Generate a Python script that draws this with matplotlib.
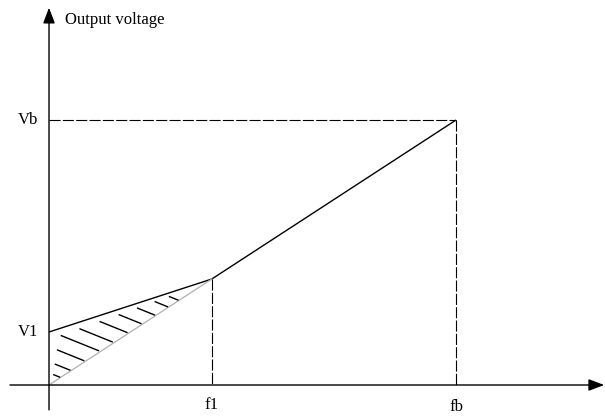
#%% imports
import numpy as np
import matplotlib
matplotlib.use('Agg')
import matplotlib.pyplot as plt

#%% data (frequency / voltage in percent of base)
f1, fb = 40, 100
V1, Vb = 20, 100
v_knee = Vb * f1 / fb          # point where boost line meets the V/f line
curve_f = [0, f1, fb]
curve_v = [V1, v_knee, Vb]
hatch_c = [4.6, 8.8, 14.5, 20.5, 25.9, 31.7, 37.2, 42.5, 47.6, 51.7]   # hatch line offsets
hatch_slope = -0.62

#%% figure
plt.rcParams['font.family'] = ['Liberation Serif', 'DejaVu Serif']
fig = plt.figure(figsize=(6.05, 4.16), dpi=100)
ax = fig.add_axes([0, 0, 1, 1])
ax.set_xlim(-12.04, 136.6)
ax.set_ylim(-11.7, 145.3)
ax.axis('off')

# axes with arrows
arrow = dict(arrowstyle='-|>,head_length=0.95,head_width=0.36', lw=1.0, color='k',
             shrinkA=0, shrinkB=0, mutation_scale=10)
ax.annotate('', xy=(136.4, 0), xytext=(-9.6, 0), arrowprops=arrow)
ax.annotate('', xy=(0, 142.4), xytext=(0, -9.4), arrowprops=arrow)

# boost curve
ax.plot(curve_f, curve_v, color='k', lw=1.0, solid_capstyle='butt')
# plain V/f line without boost
ax.plot([0, f1], [0, v_knee], color='#b0b0b0', lw=0.9)

# dashed guides
dash = dict(color='k', lw=0.8, linestyle=(0, (10, 2)))
ax.plot([f1, f1], [v_knee, 0], **dash)
ax.plot([0, fb], [Vb, Vb], **dash)
ax.plot([fb, fb], [Vb, 0], **dash)

# hatching between boost line and V/f line
up_slope = (v_knee - V1) / f1
for c in hatch_c:
    fs = max(0.0, (c - V1) / (up_slope - hatch_slope))
    fe = c / (1 - hatch_slope)
    L = fe - fs
    a = fs + 0.15 * L + 0.6
    b = fe - 0.03 * L
    if b <= a:
        a = fs + 0.5 * L
    ax.plot([a, b], [c + hatch_slope * a, c + hatch_slope * b], color='k', lw=1.0,
            solid_capstyle='butt')

# labels
fs_txt = 12
ax.text(4.0, 137.6, 'Output voltage', fontsize=fs_txt, va='center', ha='left')
ax.text(-2.6, Vb, 'Vb', fontsize=fs_txt, va='center', ha='right')
ax.text(-2.6, V1, 'V1', fontsize=fs_txt, va='center', ha='right')
ax.text(f1, -7.6, 'f1', fontsize=fs_txt, va='center', ha='center')
ax.text(fb, -8.2, 'fb', fontsize=fs_txt, va='center', ha='center')

plt.savefig('out.png', dpi=100)
